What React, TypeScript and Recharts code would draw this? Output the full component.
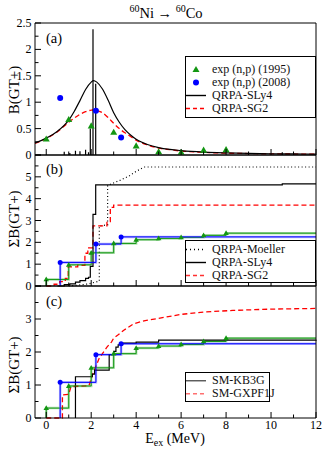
import React from "react";
import { ComposedChart, Line, Scatter, XAxis, YAxis, Legend } from "recharts";

const SERIF = "'Liberation Serif', 'Times New Roman', serif";

// axes
const X_DOMAIN = [-0.5, 12];
const X_TICKS = [0, 1, 2, 3, 4, 5, 6, 7, 8, 9, 10, 11, 12];
const A_TICKS = [0, 0.25, 0.5, 0.75, 1, 1.25, 1.5, 1.75, 2, 2.25, 2.5];
const B_TICKS = [0, 0.5, 1, 1.5, 2, 2.5, 3, 3.5, 4, 4.5, 5, 5.5, 6];
const C_TICKS = [0, 0.5, 1, 1.5, 2, 2.5, 3, 3.5, 4];

// exp (n,p) 1995 / 2008
const EXP95_E = [0, 1, 2, 3, 4, 5, 6, 7, 8];
const EXP95_B = [0.3, 0.67, 0.55, 0.43, 0.17, 0.06, 0.05, 0.09, 0.1];
const EXP08_E = [0.62, 2.21, 3.33];
const EXP08_B = [1.08, 0.84, 0.33];

// QRPA folded strength, panel (a)
const CURVE_E = [-0.5, 0, 0.5, 1, 1.25, 1.5, 1.75, 2, 2.1, 2.25, 2.5, 2.75, 3, 3.25, 3.5, 3.75, 4, 4.5, 5, 5.5, 6, 7, 8, 9, 10, 11, 12];
const SLY4_CURVE = [0.23, 0.32, 0.45, 0.66, 0.83, 1.03, 1.24, 1.38, 1.41, 1.38, 1.25, 1.04, 0.8, 0.62, 0.48, 0.38, 0.3, 0.2, 0.14, 0.105, 0.083, 0.055, 0.04, 0.03, 0.024, 0.02, 0.017];
const SG2_CURVE = [0.22, 0.31, 0.44, 0.62, 0.7, 0.77, 0.82, 0.85, 0.855, 0.84, 0.8, 0.71, 0.6, 0.5, 0.42, 0.35, 0.28, 0.19, 0.13, 0.1, 0.075, 0.05, 0.035, 0.027, 0.021, 0.018, 0.015];

// QRPA-SLy4 discrete strengths
const SLY4_E = [0.8, 1.05, 1.3, 1.5, 1.75, 1.88, 1.96, 2.08, 2.2, 10.5];
const SLY4_B = [0.06, 0.04, 0.08, 0.07, 0.1, 0.05, 0.5, 2.38, 1.35, 0.05];

// running sums, panel (b)
const SG2_CUM_E = [0, 0.35, 0.6, 0.85, 0.98, 1.4, 1.72, 1.85, 2.08, 2.7, 2.85, 3.0, 12];
const SG2_CUM_B = [0, 0.08, 0.2, 0.35, 0.88, 0.95, 1.5, 1.75, 2.75, 2.95, 3.6, 3.7, 3.72];
const MOELLER_E = [1.0, 1.3, 1.6, 1.9, 2.2, 2.36, 2.36, 2.73, 2.73, 3.0, 3.3, 3.7, 4.0, 4.35, 12];
const MOELLER_B = [0, 0.03, 0.06, 0.1, 0.18, 0.22, 2.75, 2.8, 4.6, 4.72, 4.85, 5.05, 5.25, 5.45, 5.45];

// shell model, panel (c)
const KB3G_E = [1.3, 1.3, 2.05, 2.15, 2.8, 3.0, 3.1, 3.2, 3.4, 4.0, 5.0, 12];
const KB3G_B = [0, 1.25, 1.33, 1.45, 1.92, 2.02, 2.15, 2.22, 2.27, 2.3, 2.36, 2.37];
const GXPF_E = [0, 0.72, 0.72, 1.0, 1.1, 1.9, 2.05, 2.2, 2.35, 2.5, 2.7, 2.9, 3.0, 3.2, 3.45, 3.9, 4.4, 5.0, 6.0, 7.0, 8.3, 10, 12];
const GXPF_B = [0, 0, 0.7, 0.72, 0.95, 0.98, 1.3, 1.55, 1.8, 1.95, 2.15, 2.3, 2.42, 2.52, 2.66, 2.86, 2.95, 3.02, 3.14, 3.21, 3.26, 3.3, 3.32];

type Pt = { x: number; y: number | null };
const zip = (xs: number[], ys: number[]): Pt[] => xs.map((x, i) => ({ x, y: ys[i] }));
const cumulate = (xs: number[], ys: number[]): Pt[] => {
  let s = 0;
  return xs.map((x, i) => {
    s += ys[i];
    return { x, y: Math.round(s * 1000) / 1000 };
  });
};
const sticks = (xs: number[], ys: number[]): Pt[] =>
  xs.flatMap((x, i) => [{ x, y: 0 }, { x, y: ys[i] }, { x, y: null }]);
const stepRun = (start: number, pts: Pt[]): Pt[] => [
  { x: start, y: 0 },
  ...pts,
  { x: 12, y: pts[pts.length - 1].y },
];

const exp95Pts = cumulate(EXP95_E, EXP95_B);
const exp08Pts = cumulate(EXP08_E, EXP08_B);
const exp95Cum = stepRun(0, exp95Pts);
const exp08Cum = stepRun(0.62, exp08Pts);
const sly4Cum = stepRun(0.5, cumulate(SLY4_E, SLY4_B));

const GREEN = "#129612";
const BLUE = "#0000ff";
const RED = "#ff0000";

type Side = "bottom" | "top" | "left" | "right";

// ticks point inwards, minor ones shorter; labels only on left/bottom
const makeTick = (side: Side, major: number, maxLabel: number) => (props: any) => {
  const { x, y, payload } = props;
  const v: number = payload.value;
  const isMajor = Math.abs(v / major - Math.round(v / major)) < 1e-6;
  const len = isMajor ? 6 : 3.5;
  const show = isMajor && v <= maxLabel + 1e-9;
  let x2 = x;
  let y2 = y;
  if (side === "bottom") y2 = y - len;
  else if (side === "top") y2 = y + len;
  else if (side === "left") x2 = x + len;
  else x2 = x - len;
  return (
    <g>
      <line x1={x} y1={y} x2={x2} y2={y2} stroke="#000" strokeWidth={1} />
      {show && side === "bottom" && (
        <text x={x} y={y + 10.5} textAnchor="middle" fontFamily={SERIF} fontSize={12} fill="#000">
          {String(v)}
        </text>
      )}
      {show && side === "left" && (
        <text x={x - 3.5} y={y + 4} textAnchor="end" fontFamily={SERIF} fontSize={12} fill="#000">
          {String(v)}
        </text>
      )}
    </g>
  );
};

const frame = (yTicks: number[], yMajor: number, yMaxLabel: number, xMaxLabel: number) => {
  const yDomain = [yTicks[0], yTicks[yTicks.length - 1]];
  const common = { tickLine: false, tickSize: 0, tickMargin: 0, interval: 0 as const, axisLine: { stroke: "#000", strokeWidth: 1 } };
  return [
    <XAxis key="xb" type="number" dataKey="x" domain={X_DOMAIN} ticks={X_TICKS} height={1} {...common}
      tick={makeTick("bottom", 2, xMaxLabel)} />,
    <XAxis key="xt" xAxisId="t" orientation="top" type="number" domain={X_DOMAIN} ticks={X_TICKS} height={1} {...common}
      tick={makeTick("top", 2, -1)} />,
    <YAxis key="yl" type="number" dataKey="y" domain={yDomain} ticks={yTicks} width={1} {...common}
      tick={makeTick("left", yMajor, yMaxLabel)} />,
    <YAxis key="yr" yAxisId="r" orientation="right" type="number" domain={yDomain} ticks={yTicks} width={1} {...common}
      tick={makeTick("right", yMajor, -1)} />,
  ];
};

const triangle = (size: number) => (p: any) => {
  const { cx, cy } = p;
  const h = size * 0.87;
  return (
    <polygon
      points={`${cx},${cy - h * 0.6} ${cx - size / 2},${cy + h * 0.4} ${cx + size / 2},${cy + h * 0.4}`}
      fill={GREEN}
    />
  );
};
const circle = (r: number) => (p: any) => <circle cx={p.cx} cy={p.cy} r={r} fill={BLUE} />;

type LegendItem = { label: string; kind: "tri" | "dot" | "line"; color: string; dash?: string };

const LegendBox = ({ items, pad, width, row }: { items: LegendItem[]; pad: string; width: number; row: number }) => (
  <div
    style={{
      width,
      boxSizing: "border-box",
      border: "1px solid #000",
      background: "#fff",
      padding: pad,
      fontFamily: SERIF,
      fontSize: 12,
      lineHeight: `${row}px`,
      color: "#111",
    }}
  >
    {items.map((it) => (
      <div key={it.label} style={{ display: "flex", alignItems: "center", height: row, whiteSpace: "nowrap" }}>
        <svg width={26} height={row} style={{ flex: "none" }}>
          {it.kind === "tri" && <polygon points={`10,${row / 2 - 3.5} 6.5,${row / 2 + 2.5} 13.5,${row / 2 + 2.5}`} fill={it.color} />}
          {it.kind === "dot" && <circle cx={10} cy={row / 2} r={3} fill={it.color} />}
          {it.kind === "line" && (
            <line x1={0} y1={row / 2} x2={20} y2={row / 2} stroke={it.color} strokeWidth={1.4} strokeDasharray={it.dash} />
          )}
        </svg>
        <span>{it.label}</span>
      </div>
    ))}
  </div>
);

const LEGEND_A: LegendItem[] = [
  { label: "exp (n,p) (1995)", kind: "tri", color: GREEN },
  { label: "exp (n,p) (2008)", kind: "dot", color: BLUE },
  { label: "QRPA-SLy4", kind: "line", color: "#000" },
  { label: "QRPA-SG2", kind: "line", color: RED, dash: "4 3" },
];
const LEGEND_B: LegendItem[] = [
  { label: "QRPA-Moeller", kind: "line", color: "#000", dash: "1 3" },
  { label: "QRPA-SLy4", kind: "line", color: "#000" },
  { label: "QRPA-SG2", kind: "line", color: "#ff3030", dash: "4 3" },
];
const LEGEND_C: LegendItem[] = [
  { label: "SM-KB3G", kind: "line", color: "#555" },
  { label: "SM-GXPF1J", kind: "line", color: "#ff7070", dash: "4 3" },
];

const legendAt = (items: LegendItem[], left: number, top: number, width: number, pad: string, row: number) => (
  <Legend
    layout="vertical"
    align="center"
    verticalAlign="middle"
    wrapperStyle={{ left, top, width }}
    content={() => <LegendBox items={items} pad={pad} width={width} row={row} />}
  />
);

const expLines = () => [
  <Line key="g95b" data={exp95Cum} dataKey="y" type="stepAfter" stroke="#b4e0b4" strokeWidth={2.5} dot={false} isAnimationActive={false} />,
  <Line key="b08b" data={exp08Cum} dataKey="y" type="stepAfter" stroke="#b6b6ff" strokeWidth={2.5} dot={false} isAnimationActive={false} />,
];
const expTop = () => [
  <Line key="g95" data={exp95Cum} dataKey="y" type="stepAfter" stroke={GREEN} strokeWidth={1} dot={false} isAnimationActive={false} />,
  <Line key="b08" data={exp08Cum} dataKey="y" type="stepAfter" stroke={BLUE} strokeWidth={1} dot={false} isAnimationActive={false} />,
  <Scatter key="g95p" data={exp95Pts} shape={triangle(5.5)} isAnimationActive={false} />,
  <Scatter key="b08p" data={exp08Pts} shape={circle(2.5)} isAnimationActive={false} />,
];

export default function App() {
  return (
    <div style={{ position: "absolute", left: 0, top: 0, width: 324, height: 450, background: "#fff" }}>
      {/* (a) strength distribution */}
      <div style={{ position: "absolute", left: 0, top: 0 }}>
        <ComposedChart width={324} height={165} margin={{ top: 22, right: 7, bottom: 9, left: 34 }}>
          {frame(A_TICKS, 0.5, 2.5, -1)}
          <Line data={zip(CURVE_E, SG2_CURVE)} dataKey="y" type="monotone" stroke={RED} strokeWidth={1.3} strokeDasharray="5 3" dot={false} isAnimationActive={false} />
          <Line data={zip(CURVE_E, SLY4_CURVE)} dataKey="y" type="monotone" stroke="#000" strokeWidth={1.2} dot={false} isAnimationActive={false} />
          <Line data={sticks(SLY4_E, SLY4_B)} dataKey="y" type="linear" stroke="#000" strokeWidth={1.2} dot={false} isAnimationActive={false} />
          <Scatter data={zip(EXP95_E, EXP95_B)} shape={triangle(7)} isAnimationActive={false} />
          <Scatter data={zip(EXP08_E, EXP08_B)} shape={circle(3)} isAnimationActive={false} />
          {legendAt(LEGEND_A, 185, 56, 131, "5.5px 0 2.5px", 13)}
        </ComposedChart>
      </div>

      {/* (b) running sums, QRPA */}
      <div style={{ position: "absolute", left: 0, top: 154 }}>
        <ComposedChart width={324} height={142} margin={{ top: 0, right: 7, bottom: 9, left: 34 }}>
          {frame(B_TICKS, 1, 5, -1)}
          {expLines()}
          <Line data={zip(MOELLER_E, MOELLER_B)} dataKey="y" type="linear" stroke="#000" strokeWidth={1.2} strokeDasharray="1 2.5" dot={false} isAnimationActive={false} />
          <Line data={zip(SG2_CUM_E, SG2_CUM_B)} dataKey="y" type="stepAfter" stroke={RED} strokeWidth={1.3} strokeDasharray="5 3" dot={false} isAnimationActive={false} />
          <Line data={sly4Cum} dataKey="y" type="stepAfter" stroke="#000" strokeWidth={1.2} dot={false} isAnimationActive={false} />
          {expTop()}
          {legendAt(LEGEND_B, 185, 86, 131, "1.5px 0 0", 13)}
        </ComposedChart>
      </div>

      {/* (c) running sums, shell model */}
      <div style={{ position: "absolute", left: 0, top: 285 }}>
        <ComposedChart width={324} height={165} margin={{ top: 0, right: 7, bottom: 31, left: 34 }}>
          {frame(C_TICKS, 1, 3, 12)}
          {expLines()}
          <Line data={zip(GXPF_E, GXPF_B)} dataKey="y" type="linear" stroke={RED} strokeWidth={1.3} strokeDasharray="5 3" dot={false} isAnimationActive={false} />
          <Line data={zip(KB3G_E, KB3G_B)} dataKey="y" type="stepAfter" stroke="#000" strokeWidth={1.2} dot={false} isAnimationActive={false} />
          {expTop()}
          {legendAt(LEGEND_C, 185, 87, 85, "0.5px 0 0", 13.5)}
        </ComposedChart>
      </div>

      <svg width={324} height={450} style={{ position: "absolute", left: 0, top: 0, pointerEvents: "none" }}>
        <g fontFamily={SERIF} fill="#000">
          <text x={166} y={18} textAnchor="middle" fontSize={14.5}>
            <tspan fontSize={10} dy={-6}>60</tspan>
            <tspan dy={6}>Ni</tspan>
            <tspan> → </tspan>
            <tspan fontSize={10} dy={-6}>60</tspan>
            <tspan dy={6}>Co</tspan>
          </text>
          <text x={46} y={43} fontSize={14.5}>(a)</text>
          <text x={46} y={174} fontSize={14.5}>(b)</text>
          <text x={46} y={306} fontSize={14.5}>(c)</text>
          <text transform="translate(19,90) rotate(-90)" textAnchor="middle" fontSize={15}>B(GT+)</text>
          <text transform="translate(19,219) rotate(-90)" textAnchor="middle" fontSize={15}>ΣB(GT+)</text>
          <text transform="translate(19,365) rotate(-90)" textAnchor="middle" fontSize={15}>ΣB(GT+)</text>
          <text x={175} y={443} textAnchor="middle" fontSize={14}>
            E<tspan fontSize={10} dy={3}>ex</tspan>
            <tspan dy={-3}> (MeV)</tspan>
          </text>
        </g>
      </svg>
    </div>
  );
}
